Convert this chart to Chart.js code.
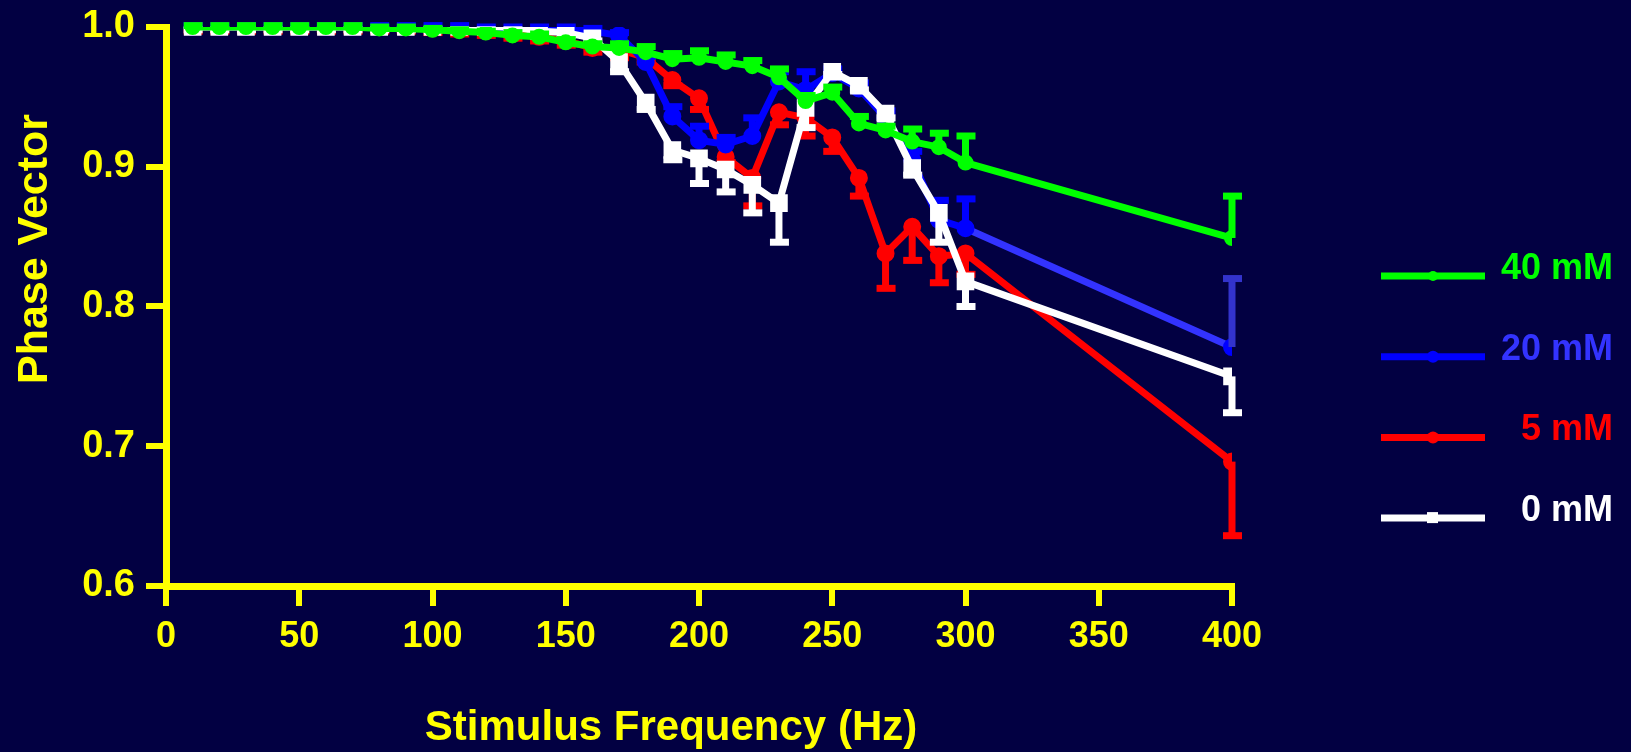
<!DOCTYPE html>
<html lang="en">
<head>
<meta charset="UTF-8">
<title>Phase Vector vs Stimulus Frequency</title>
<script src="https://cdn.jsdelivr.net/npm/chart.js"></script>
<style>
    html, body {
        margin: 0;
        padding: 0;
        background: #020042;
        overflow: hidden;
    }
    canvas {
        display: block;
    }
</style>
</head>
<body>
<canvas id="phaseChart" width="1631" height="752"></canvas>
<script>
    // stimulus frequencies (Hz)
    const freqs = [10, 20, 30, 40, 50, 60, 70, 80, 90, 100, 110, 120, 130, 140, 150,
                   160, 170, 180, 190, 200, 210, 220, 230, 240, 250, 260, 270, 280, 290, 300, 400];

    // phase vector means and SEM for each concentration
    const pv40 = [1.000, 1.000, 1.000, 1.000, 1.000, 1.000, 1.000, 0.999, 0.999, 0.998, 0.997, 0.996, 0.994, 0.993, 0.989,
                  0.986, 0.985, 0.982, 0.977, 0.978, 0.975, 0.972, 0.964, 0.947, 0.953, 0.931, 0.926, 0.918, 0.914, 0.903, 0.849];
    const sem40 = [0.001, 0.001, 0.001, 0.001, 0.001, 0.001, 0.001, 0.001, 0.001, 0.001, 0.001, 0.001, 0.002, 0.002, 0.002,
                   0.002, 0.003, 0.004, 0.004, 0.005, 0.005, 0.004, 0.006, 0.004, 0.004, 0.005, 0.003, 0.009, 0.010, 0.019, 0.030];

    const pv20 = [1.000, 1.000, 1.000, 1.000, 1.000, 1.000, 1.000, 1.000, 1.000, 1.000, 1.000, 0.999, 0.999, 0.999, 0.999,
                  0.997, 0.994, 0.975, 0.936, 0.919, 0.916, 0.922, 0.961, 0.955, 0.967, 0.956, 0.935, 0.905, 0.862, 0.856, 0.771];
    const sem20 = [0.001, 0.001, 0.001, 0.001, 0.001, 0.001, 0.001, 0.001, 0.001, 0.001, 0.001, 0.001, 0.001, 0.001, 0.001,
                   0.002, 0.002, 0.004, 0.007, 0.010, 0.005, 0.013, 0.007, 0.013, 0.003, 0.004, 0.005, 0.006, 0.014, 0.021, 0.049];

    const pv5 = [1.000, 1.000, 1.000, 1.000, 1.000, 1.000, 1.000, 1.000, 1.000, 0.999, 0.998, 0.997, 0.995, 0.993, 0.990,
                 0.985, 0.984, 0.978, 0.962, 0.949, 0.907, 0.892, 0.939, 0.935, 0.921, 0.892, 0.838, 0.857, 0.836, 0.838, 0.689];
    const sem5 = [0.003, 0.003, 0.003, 0.003, 0.003, 0.003, 0.003, 0.003, 0.003, 0.003, 0.003, 0.003, 0.003, 0.003, 0.003,
                  0.003, 0.006, 0.003, 0.004, 0.008, 0.004, 0.020, 0.009, 0.013, 0.010, 0.013, 0.025, 0.024, 0.019, 0.015, 0.053];

    const pv0 = [1.000, 1.000, 1.000, 1.000, 1.000, 1.000, 1.000, 1.000, 1.000, 1.000, 1.000, 1.000, 1.000, 0.997, 0.996,
                 0.992, 0.975, 0.946, 0.912, 0.906, 0.898, 0.887, 0.874, 0.942, 0.968, 0.958, 0.938, 0.899, 0.867, 0.818, 0.750];
    const sem0 = [0.002, 0.002, 0.002, 0.002, 0.002, 0.002, 0.002, 0.002, 0.002, 0.002, 0.002, 0.002, 0.002, 0.002, 0.002,
                  0.002, 0.007, 0.005, 0.007, 0.018, 0.016, 0.020, 0.028, 0.014, 0.002, 0.003, 0.003, 0.005, 0.021, 0.018, 0.026];

    const xTicks = [0, 50, 100, 150, 200, 250, 300, 350, 400];
    const yTicks = [0.6, 0.7, 0.8, 0.9, 1.0];

    const YELLOW = '#FFFF00';
    const BG = '#020042';
    const FONT = '"Liberation Sans", Arial, sans-serif';

    function toPoints(values) {
        return freqs.map((f, i) => ({x: f, y: values[i]}));
    }

    // one-sided SEM bars, drawn right after each dataset so they share its layer
    const errorBars = {
        id: 'errorBars',
        afterDatasetDraw(chart, args) {
            const ds = chart.data.datasets[args.index];
            if (!ds.sem) return;
            const ctx = chart.ctx;
            const yScale = chart.scales.y;
            ctx.save();
            args.meta.data.forEach((pt, i) => {
                const end = ds.data[i].y + ds.dir * ds.sem[i];
                const yEnd = yScale.getPixelForValue(end);
                const color = (ds.lastColor && i === ds.data.length - 1) ? ds.lastColor : ds.borderColor;
                ctx.strokeStyle = color;
                ctx.lineCap = 'butt';
                ctx.lineWidth = 7;
                ctx.beginPath();
                ctx.moveTo(pt.x, pt.y);
                ctx.lineTo(pt.x, yEnd);
                ctx.stroke();
                ctx.beginPath();
                ctx.moveTo(pt.x - 9, yEnd);
                ctx.lineTo(pt.x + 10, yEnd);
                ctx.stroke();
            });
            ctx.restore();
        }
    };

    const background = {
        id: 'background',
        beforeDraw(chart) {
            const ctx = chart.ctx;
            ctx.save();
            ctx.fillStyle = BG;
            ctx.fillRect(0, 0, chart.width, chart.height);
            ctx.restore();
        }
    };

    // axis titles and the key on the right
    const annotations = {
        id: 'annotations',
        afterDraw(chart) {
            const ctx = chart.ctx;
            ctx.save();
            ctx.fillStyle = YELLOW;
            ctx.font = 'bold 42px ' + FONT;
            ctx.textAlign = 'center';
            ctx.textBaseline = 'alphabetic';
            ctx.fillText('Stimulus Frequency (Hz)', 671, 740);

            ctx.translate(47, 249);
            ctx.rotate(-Math.PI / 2);
            ctx.font = 'bold 43px ' + FONT;
            ctx.fillText('Phase Vector', 0, 0);
            ctx.restore();

            const keys = [
                {label: '40 mM', line: '#00FF00', text: '#00FF00', marker: 'circle', r: 5},
                {label: '20 mM', line: '#0000FF', text: '#3333FF', marker: 'circle', r: 6},
                {label: '5 mM', line: '#FF0000', text: '#FF0000', marker: 'circle', r: 6},
                {label: '0 mM', line: '#FFFFFF', text: '#FFFFFF', marker: 'rect', r: 6}
            ];
            ctx.save();
            ctx.font = 'bold 36px ' + FONT;
            ctx.textAlign = 'right';
            ctx.textBaseline = 'alphabetic';
            keys.forEach((k, i) => {
                const y = 276 + i * 80.7;
                ctx.strokeStyle = k.line;
                ctx.lineWidth = 7;
                ctx.beginPath();
                ctx.moveTo(1381, y);
                ctx.lineTo(1485, y);
                ctx.stroke();
                ctx.fillStyle = k.line;
                if (k.marker === 'rect') {
                    ctx.fillRect(1427, y - 6, 11, 11);
                } else {
                    ctx.beginPath();
                    ctx.arc(1433, y, k.r, 0, Math.PI * 2);
                    ctx.fill();
                }
                ctx.fillStyle = k.text;
                ctx.fillText(k.label, 1613, y + 3);
            });
            ctx.restore();
        }
    };

    const last = freqs.length - 1;

    const datasets = [
        {
            label: '40 mM', data: toPoints(pv40), sem: sem40, dir: 1,
            borderColor: '#00FF00', backgroundColor: '#00FF00',
            borderWidth: 7, pointRadius: 4.5, pointStyle: 'circle'
        },
        {
            label: '0 mM', data: toPoints(pv0), sem: sem0, dir: -1,
            borderColor: '#FFFFFF', backgroundColor: '#FFFFFF',
            borderWidth: 7, pointRadius: 7.5, pointStyle: 'rect'
        },
        {
            label: '20 mM', data: toPoints(pv20), sem: sem20, dir: 1,
            borderColor: '#0000FF', backgroundColor: '#0000FF', lastColor: '#3333CC',
            borderWidth: 7, pointRadius: 5.5, pointStyle: 'circle',
            segment: {
                borderColor: c => c.p1DataIndex === last ? '#3333FF' : undefined
            }
        },
        {
            label: '5 mM', data: toPoints(pv5), sem: sem5, dir: -1,
            borderColor: '#FF0000', backgroundColor: '#FF0000',
            borderWidth: 7, pointRadius: 5.5, pointStyle: 'circle'
        }
    ];

    new Chart(document.getElementById('phaseChart'), {
        type: 'line',
        data: {datasets: datasets},
        plugins: [background, errorBars, annotations],
        options: {
            responsive: false,
            animation: false,
            devicePixelRatio: 1,
            layout: {padding: {top: 27, right: 399, left: 0, bottom: 0}},
            elements: {
                line: {tension: 0, borderCapStyle: 'round', borderJoinStyle: 'round'},
                point: {borderWidth: 0}
            },
            plugins: {
                legend: {display: false},
                tooltip: {enabled: false}
            },
            scales: {
                x: {
                    type: 'linear',
                    min: 0,
                    max: 400,
                    afterFit: s => {
                        s.height = 166;
                        s.paddingLeft = 0;
                        s.paddingRight = 0;
                    },
                    afterBuildTicks: s => { s.ticks = xTicks.map(v => ({value: v})); },
                    border: {display: true, color: YELLOW, width: 7},
                    grid: {drawOnChartArea: false, drawTicks: true, tickLength: 20, color: YELLOW, lineWidth: 6},
                    ticks: {
                        color: YELLOW,
                        font: {family: FONT, size: 36, weight: 'bold'},
                        padding: 9,
                        maxRotation: 0,
                        autoSkip: false
                    }
                },
                y: {
                    type: 'linear',
                    min: 0.6,
                    max: 1.0,
                    afterFit: s => {
                        s.width = 166;
                        s.paddingTop = 0;
                        s.paddingBottom = 0;
                    },
                    afterBuildTicks: s => { s.ticks = yTicks.map(v => ({value: v})); },
                    border: {display: true, color: YELLOW, width: 7},
                    grid: {drawOnChartArea: false, drawTicks: true, tickLength: 20, color: YELLOW, lineWidth: 6},
                    ticks: {
                        color: YELLOW,
                        font: {family: FONT, size: 38, weight: 'bold'},
                        padding: 11,
                        autoSkip: false,
                        callback: v => v.toFixed(1)
                    }
                }
            }
        }
    });
</script>
</body>
</html>
